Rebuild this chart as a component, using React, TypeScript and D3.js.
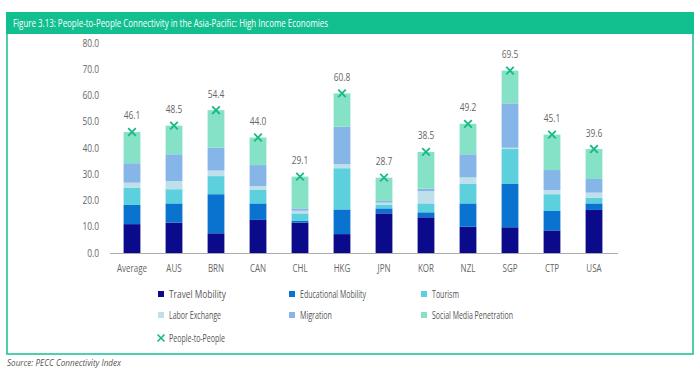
import React from "react";
import * as d3 from "d3";

const categories = ["Average", "AUS", "BRN", "CAN", "CHL", "HKG", "JPN", "KOR", "NZL", "SGP", "CTP", "USA"];
const travelMobility = [11.0, 11.6, 7.5, 12.6, 11.6, 7.2, 15.1, 13.6, 10.0, 9.8, 8.6, 16.4];
const educationalMobility = [7.3, 7.3, 14.9, 6.3, 0.6, 9.4, 1.9, 1.9, 8.9, 16.5, 7.4, 2.5];
const tourism = [6.6, 5.4, 6.9, 5.1, 2.9, 15.7, 1.3, 3.4, 7.4, 13.3, 6.4, 2.2];
const laborExchange = [1.9, 3.1, 2.1, 1.5, 1.0, 1.5, 0.9, 4.7, 2.5, 0.5, 1.6, 1.9];
const migration = [7.4, 10.2, 8.7, 8.0, 0.9, 14.3, 0.6, 0.9, 8.8, 16.9, 7.6, 5.2];
const socialMedia = [11.9, 10.9, 14.3, 10.5, 12.1, 12.7, 8.9, 14.0, 11.6, 12.5, 13.5, 11.4];
const peopleToPeople = [46.1, 48.5, 54.4, 44.0, 29.1, 60.8, 28.7, 38.5, 49.2, 69.5, 45.1, 39.6];
const yTicks = [0, 10, 20, 30, 40, 50, 60, 70, 80];

const seriesNames = ["Travel Mobility", "Educational Mobility", "Tourism", "Labor Exchange", "Migration", "Social Media Penetration"];
const seriesValues = [travelMobility, educationalMobility, tourism, laborExchange, migration, socialMedia];
const colors = ["#0a0a8a", "#0a72cf", "#5dd0de", "#bfe0ea", "#86b5e8", "#86e2c6"];
const markerColor = "#17b984";
const frameColor = "#12c08f";

const FONT = "'Open Sans', sans-serif";

function T(props: { x: number; y: number; sx?: number; anchor?: string; size: number; fill: string; children: any; italic?: boolean }) {
  const { x, y, sx = 0.8, anchor = "start", size, fill, children, italic } = props;
  return (
    <text transform={`translate(${x},${y}) scale(${sx},1)`} textAnchor={anchor as any} fontSize={size} fill={fill} fontStyle={italic ? "italic" : undefined}>
      {children}
    </text>
  );
}

export default function App() {
  const x = d3.scaleBand<string>().domain(categories).range([111, 615]).paddingInner(0.6).paddingOuter(0.3);
  const y = d3.scaleLinear().domain([0, 80]).range([253, 43]);

  const table = categories.map((c, i) => {
    const row: any = { cat: c };
    seriesNames.forEach((s, k) => (row[s] = seriesValues[k][i]));
    return row;
  });
  const stack = d3.stack<any>().keys(seriesNames)(table);

  const legendX = [158, 289, 421];
  const legendY = [294, 315, 338];
  const legendItems = [
    { name: seriesNames[0], col: 0, row: 0, color: colors[0], w: 57 },
    { name: seriesNames[1], col: 1, row: 0, color: colors[1], w: 66 },
    { name: seriesNames[2], col: 2, row: 0, color: colors[2], w: 27 },
    { name: seriesNames[3], col: 0, row: 1, color: colors[3], w: 52 },
    { name: seriesNames[4], col: 1, row: 1, color: colors[4], w: 32 },
    { name: seriesNames[5], col: 2, row: 1, color: colors[5], w: 81 },
  ];

  const cross = (cx: number, cy: number, r: number) => `M${cx - r},${cy - r}L${cx + r},${cy + r}M${cx - r},${cy + r}L${cx + r},${cy - r}`;

  return (
    <svg width={700} height={374} style={{ position: "absolute", left: 0, top: 0, background: "#fff" }} fontFamily={FONT}>
      <rect x={7} y={33} width={686} height={321} fill="none" stroke={frameColor} strokeWidth={1.5} />
      <rect x={6} y={12} width={688} height={22} fill={frameColor} />
      <text x={13} y={26.5} fill="#fff" fontSize={10} textLength={315} lengthAdjust="spacingAndGlyphs">Figure 3.13: People-to-People Connectivity in the Asia-Pacific: High Income Economies</text>

      {yTicks.map((t) => (
        <T key={t} x={99} y={y(t) + 3.5} anchor="end" size={10.5} fill="#666">{d3.format(".1f")(t)}</T>
      ))}
      <line x1={110} x2={618} y1={253.5} y2={253.5} stroke="#aaa" strokeWidth={1.2} />

      {stack.map((layer, k) => (
        <g key={k} fill={colors[k]}>
          {layer.map((d, i) => (
            <rect key={i} x={x(categories[i])} width={x.bandwidth()} y={y(d[1])} height={y(d[0]) - y(d[1])} />
          ))}
        </g>
      ))}

      {categories.map((c, i) => {
        const cx = x(c)! + x.bandwidth() / 2;
        return (
          <g key={c}>
            <path d={cross(cx, y(peopleToPeople[i]), 3.8)} stroke={markerColor} strokeWidth={1.8} fill="none" />
            <T x={cx} y={y(peopleToPeople[i]) - 12.5} anchor="middle" size={10.5} fill="#666">{d3.format(".1f")(peopleToPeople[i])}</T>
            <T x={cx} y={272} anchor="middle" size={10} fill="#666">{c}</T>
          </g>
        );
      })}

      {legendItems.map((l) => (
        <g key={l.name}>
          <rect x={legendX[l.col]} y={legendY[l.row] - 3} width={6} height={6} fill={l.color} />
          <text x={legendX[l.col] + 11} y={legendY[l.row] + 3.5} fontSize={10} fill="#555" textLength={l.w} lengthAdjust="spacingAndGlyphs">{l.name}</text>
        </g>
      ))}
      <path d={cross(legendX[0] + 3, legendY[2], 3.5)} stroke={markerColor} strokeWidth={1.6} fill="none" />
      <text x={legendX[0] + 11} y={legendY[2] + 3.5} fontSize={10} fill="#555" textLength={56} lengthAdjust="spacingAndGlyphs">People-to-People</text>

      <text x={7} y={366} fontSize={8.5} fontStyle="italic" fill="#555" textLength={114} lengthAdjust="spacingAndGlyphs">Source: PECC Connectivity Index</text>
    </svg>
  );
}
